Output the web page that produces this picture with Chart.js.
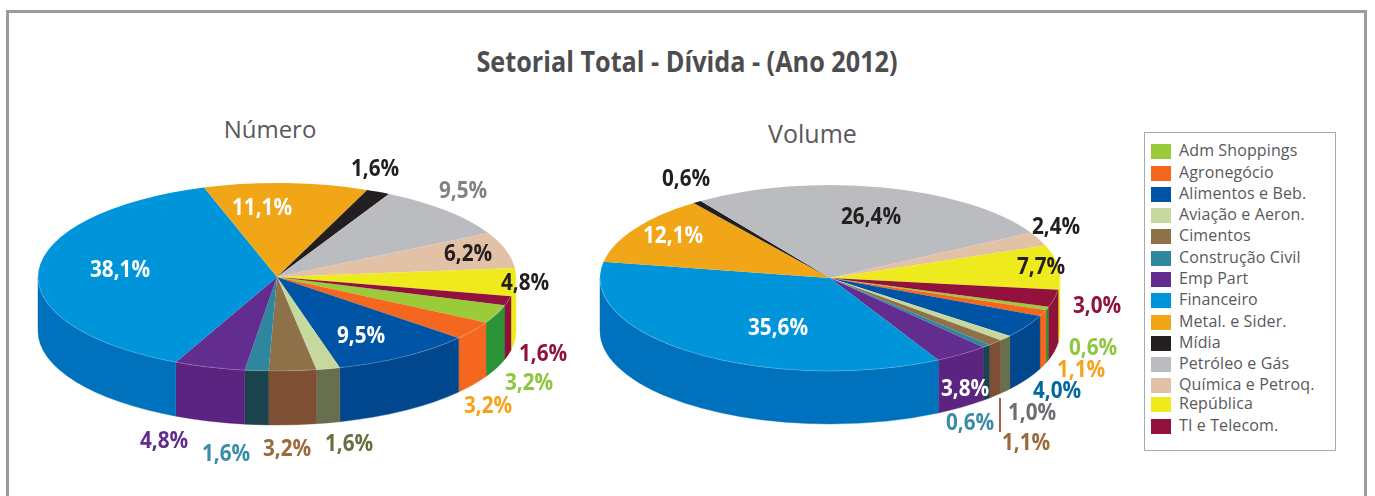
<!DOCTYPE html>
<html lang="pt">
<head>
<meta charset="utf-8">
<title>Setorial Total - Dívida - (Ano 2012)</title>
<script src="https://cdn.jsdelivr.net/npm/chart.js@4/dist/chart.umd.min.js"></script>
<style>
html,body{margin:0;padding:0;background:#fff;width:1375px;height:496px;overflow:hidden;}
body{position:relative;font-family:"Open Sans",sans-serif;}
#frame{position:absolute;left:6px;top:10px;width:1355px;height:500px;border:3px solid #9a9b9d;box-sizing:content-box;}
#mainTitle{position:absolute;left:387px;width:600px;top:41px;text-align:center;font:700 29px "Open Sans",sans-serif;color:#4d4d4f;white-space:nowrap;transform:scaleX(.87);}
.sub{position:absolute;width:200px;text-align:center;font:400 24px "Open Sans",sans-serif;color:#58595b;}
canvas{position:absolute;}
#wrapA{position:absolute;left:-28px;top:20px;width:610px;height:476px;}
#wrapB{position:absolute;left:520px;top:20px;width:620px;height:476px;}
#legend{position:absolute;left:1144px;top:132px;width:190px;height:317px;border:1.5px solid #a7a9ac;box-sizing:content-box;}
.row{position:absolute;left:6px;height:15px;white-space:nowrap;font:400 16px "Open Sans",sans-serif;color:#58595b;line-height:15px;}
.sw{position:absolute;left:0;top:0;width:20px;height:15px;}
.tx{position:absolute;left:28px;top:-1px;letter-spacing:.12px;}
#leader{position:absolute;left:999px;top:398px;width:2px;height:34px;background:#a8604c;}
</style>
</head>
<body>
<div id="frame"></div>
<div id="mainTitle">Setorial Total - Dívida - (Ano 2012)</div>
<div class="sub" style="left:170px;top:112px">Número</div>
<div class="sub" style="left:712.5px;top:116px;font-size:25px">Volume</div>
<div id="wrapA"><canvas id="chartNumero"></canvas></div>
<div id="wrapB"><canvas id="chartVolume"></canvas></div>
<div id="leader"></div>
<div id="legend"></div>
<script>
// ---- data ----
const categories = ["Adm Shoppings","Agronegócio","Alimentos e Beb.","Aviação e Aeron.","Cimentos","Construção Civil","Emp Part","Financeiro","Metal. e Sider.","Mídia","Petróleo e Gás","Química e Petroq.","República","TI e Telecom."];
const numeroValues = [3.2,3.2,9.5,1.6,3.2,1.6,4.8,38.1,11.1,1.6,9.5,6.2,4.8,1.6];
const volumeValues = [0.6,1.1,4.0,1.0,1.1,0.6,3.8,35.6,12.1,0.6,26.4,2.4,7.7,3.0];

// ---- styles ----
const topColors  = ["#99cc38","#f5671f","#0054a6","#c5d89d","#8e7049","#2e879e","#632d90","#0095da","#f0a616","#231f20","#bbbcbf","#e2c1a6","#efea1d","#93123d"];
const sideColors = ["#2a9338","#f5671f","#00478e","#66704f","#7f4f33","#1b434d","#5b2480","#0071bc","#c98a10","#231f20","#9a9b9e","#c4a58c","#efea1d","#8f1239"];
const numeroLabelLayout = [
 [529,382,"#8dc63f"],[488,405,"#f7a21b"],[361,335,"#ffffff"],[349,443,"#66703f"],[287,448,"#9a6a3a"],[226,453,"#3a8da8"],[164,440,"#632d90"],
 [120,269,"#ffffff"],[262,207,"#ffffff"],[375,168,"#231f20"],[463,190,"#808285"],[468,253,"#231f20"],[525,282,"#231f20"],[543,353,"#93123d"]];
const volumeLabelLayout = [
 [1093,347,"#8dc63f"],[1081,369,"#f7a21b"],[1057,390,"#00689d"],[1032,412,"#6d6e71"],[1026,442,"#9a6a3a"],[970,422,"#3a8da8"],[965,388,"#ffffff"],
 [778,327,"#ffffff"],[673,235,"#ffffff"],[686,178,"#231f20"],[871,216,"#231f20"],[1056,226,"#231f20"],[1041,266,"#231f20"],[1097,305,"#93123d"]];

const pie3d = {
  id:'pie3d',
  beforeDatasetsDraw(chart, args, o){
    const ctx = chart.ctx, arcs = chart.getDatasetMeta(0).data;
    const cx = arcs[0].x, cy = arcs[0].y, r = arcs[0].outerRadius, k = o.squash, d = o.depth;
    ctx.save();
    const TWO = Math.PI*2;
    arcs.forEach((a,i)=>{
      for (const shift of [0,TWO,-TWO]) {
        const s = Math.max(a.startAngle+shift,0), e = Math.min(a.endAngle+shift,Math.PI);
        if (e <= s) continue;
        ctx.beginPath();
        ctx.ellipse(cx,cy,r,r*k,0,s,e,false);
        ctx.ellipse(cx,cy+d,r,r*k,0,e,s,true);
        ctx.closePath();
        ctx.fillStyle = sideColors[i];
        ctx.fill();
        ctx.strokeStyle = sideColors[i];
        ctx.lineWidth = .4;
        ctx.stroke();
      }
    });
    ctx.translate(cx,cy); ctx.scale(1,k); ctx.translate(-cx,-cy);
  },
  afterDatasetsDraw(chart, args, o){
    const ctx = chart.ctx, a0 = chart.getDatasetMeta(0).data[0];
    ctx.restore();
    ctx.save();
    ctx.beginPath();
    ctx.ellipse(a0.x,a0.y,a0.outerRadius,a0.outerRadius*o.squash,0,0,Math.PI,false);
    ctx.strokeStyle='rgba(255,255,255,.3)'; ctx.lineWidth=.7; ctx.stroke();
    ctx.restore();
    const holder = chart.canvas.parentNode;
    const ox = holder.offsetLeft, oy = holder.offsetTop;
    ctx.save();
    ctx.textAlign='center'; ctx.textBaseline='middle';
    ctx.font='700 23px "Open Sans", sans-serif';
    chart.data.datasets[0].data.forEach((v,i)=>{
      const [x,y,c]=o.layout[i];
      ctx.save();
      ctx.translate(x-ox,y-oy+1); ctx.scale(.9,1);
      ctx.fillStyle=c;
      ctx.fillText(v.toFixed(1).replace('.',',')+'%',0,0);
      ctx.restore();
    });
    ctx.restore();
  }
};

function makePie(id, values, rotation, radius, squash, depth, layout, padTop){
  return new Chart(document.getElementById(id),{
    type:'pie',
    data:{labels:categories,datasets:[{data:values,backgroundColor:topColors,borderWidth:0,clip:false,hoverOffset:0}]},
    plugins:[pie3d],
    options:{
      responsive:true,maintainAspectRatio:false,animation:false,
      rotation,radius,
      layout:{padding:{top:padTop}},
      events:[],
      plugins:{legend:{display:false},tooltip:{enabled:false},title:{display:false},pie3d:{squash,depth,layout}}
    }
  });
}
makePie('chartNumero',numeroValues,107.5,239,94/239,54,numeroLabelLayout,38);
makePie('chartVolume',volumeValues,108,230,93/230,53,volumeLabelLayout,40);

// legend built from the same categories
const rowTops=[11,33,54,75,96,118,139,160,182,203,224,245,264,286];
const lg=document.getElementById('legend');
categories.forEach((c,i)=>{
  const r=document.createElement('div');r.className='row';r.style.top=rowTops[i]+'px';
  r.innerHTML='<span class="sw" style="background:'+topColors[i]+'"></span><span class="tx">'+c+'</span>';
  lg.appendChild(r);
});
</script>
</body>
</html>
